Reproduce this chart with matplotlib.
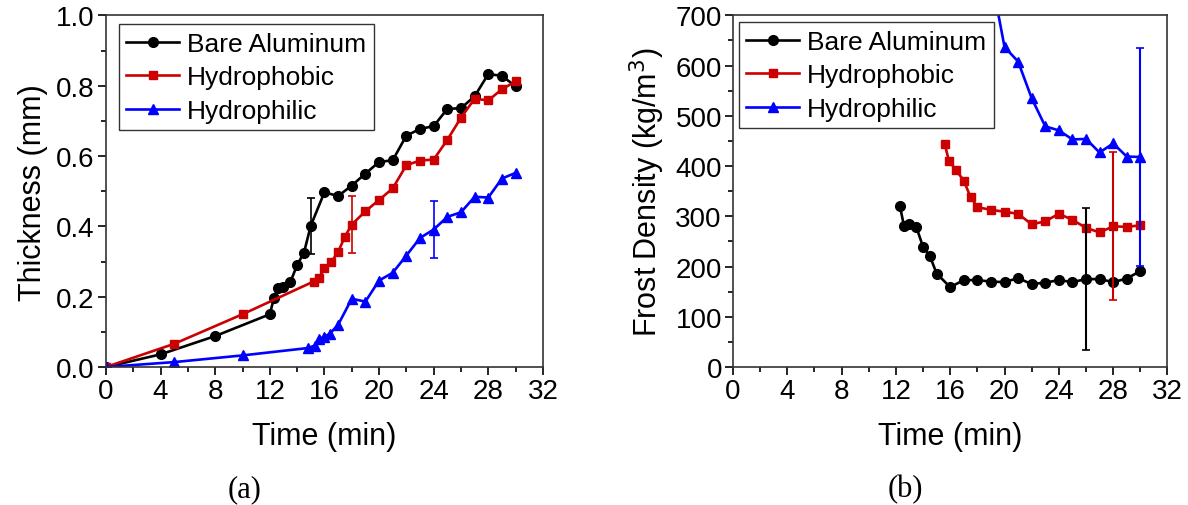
import numpy as np
import matplotlib
matplotlib.use('Agg')
import matplotlib.pyplot as plt
from matplotlib.ticker import MultipleLocator

plt.rcParams['font.family'] = ['Liberation Sans', 'DejaVu Sans']

# (a) frost thickness
t_bare = [0, 4, 8, 12, 12.3, 12.6, 13, 13.5, 14, 14.5, 15, 16, 17, 18, 19, 20, 21,
          22, 23, 24, 25, 26, 27, 28, 29, 30]
th_bare = [0, 0.036, 0.088, 0.150, 0.196, 0.226, 0.228, 0.241, 0.290, 0.325, 0.402,
           0.497, 0.486, 0.516, 0.550, 0.583, 0.588, 0.658, 0.677, 0.685, 0.734,
           0.736, 0.770, 0.833, 0.828, 0.798]
t_phob = [0, 5, 10, 15.2, 15.6, 16, 16.5, 17, 17.5, 18, 19, 20, 21, 22, 23, 24, 25,
          26, 27, 28, 29, 30]
th_phob = [0, 0.066, 0.150, 0.243, 0.254, 0.281, 0.299, 0.327, 0.371, 0.405, 0.443,
           0.475, 0.508, 0.574, 0.587, 0.590, 0.646, 0.709, 0.763, 0.758, 0.790, 0.812]
t_phil = [0, 5, 10, 14.8, 15.3, 15.6, 16, 16.4, 17, 18, 19, 20, 21, 22, 23, 24, 25,
          26, 27, 28, 29, 30]
th_phil = [0, 0.014, 0.033, 0.054, 0.061, 0.080, 0.086, 0.095, 0.120, 0.194, 0.186,
           0.246, 0.268, 0.317, 0.367, 0.391, 0.427, 0.440, 0.484, 0.482, 0.536, 0.552]

# error bars (a): (time, value, half-range)
err_a_bare = (15, 0.402, 0.080)
err_a_phob = (18, 0.405, 0.080)
err_a_phil = (24, 0.391, 0.080)

# (b) frost density
td_bare = [12.3, 12.6, 13, 13.5, 14, 14.5, 15, 16, 17, 18, 19, 20, 21, 22, 23, 24,
           25, 26, 27, 28, 29, 30]
rho_bare = [320, 280, 285, 279, 239, 221, 186, 159, 173, 173, 170, 169, 177, 165,
            168, 173, 169, 175, 175, 169, 176, 191]
td_phob = [15.6, 15.9, 16.4, 17, 17.5, 18, 19, 20, 21, 22, 23, 24, 25, 26, 27, 28,
           29, 30]
rho_phob = [443, 411, 393, 371, 338, 318, 313, 309, 305, 284, 290, 305, 293, 277,
            268, 280, 279, 282]
td_phil = [18, 19, 20, 21, 22, 23, 24, 25, 26, 27, 28, 29, 30]
rho_phil = [1050, 780, 637, 608, 535, 479, 471, 453, 454, 427, 445, 419, 418]

err_b_bare = (26, 175, 142)
err_b_phob = (28, 280, 147)
err_b_phil = (30, 418, 217)

black = 'black'
red = '#CC0000'
blue = '#0000FF'

fig = plt.figure(figsize=(11.88, 5.06), dpi=100)
ax1 = fig.add_axes([0.0892, 0.2727, 0.3678, 0.695])
ax2 = fig.add_axes([0.617, 0.2727, 0.3657, 0.695])

line_kw = dict(lw=1.9)
ax1.plot(t_bare, th_bare, '-o', color=black, ms=7, label='Bare Aluminum', **line_kw)
ax1.plot(t_phob, th_phob, '-s', color=red, ms=6, label='Hydrophobic', **line_kw)
ax1.plot(t_phil, th_phil, '-^', color=blue, ms=7, label='Hydrophilic', **line_kw)
for (x, y, e), c in [(err_a_bare, black), (err_a_phob, red), (err_a_phil, blue)]:
    ax1.errorbar(x, y, yerr=e, color=c, capsize=3, lw=1.2, capthick=1.2, fmt='none')

ax2.plot(td_bare, rho_bare, '-o', color=black, ms=7, label='Bare Aluminum', **line_kw)
ax2.plot(td_phob, rho_phob, '-s', color=red, ms=6, label='Hydrophobic', **line_kw)
ax2.plot(td_phil, rho_phil, '-^', color=blue, ms=7, label='Hydrophilic', **line_kw)
for (x, y, e), c in [(err_b_bare, black), (err_b_phob, red), (err_b_phil, blue)]:
    ax2.errorbar(x, y, yerr=e, color=c, capsize=3, lw=1.5, capthick=1.2, fmt='none')

ax1.set_xlim(0, 32)
ax1.set_ylim(0, 1.0)
ax1.yaxis.set_major_locator(MultipleLocator(0.2))
ax1.yaxis.set_minor_locator(MultipleLocator(0.1))
ax1.yaxis.set_major_formatter(matplotlib.ticker.FormatStrFormatter('%.1f'))
ax1.set_ylabel('Thickness (mm)', fontsize=22, labelpad=6)

ax2.set_xlim(0, 32)
ax2.set_ylim(0, 700)
ax2.yaxis.set_major_locator(MultipleLocator(100))
ax2.yaxis.set_minor_locator(MultipleLocator(50))
ax2.set_ylabel('Frost Density (kg/m$^3$)', fontsize=22, labelpad=6)

for ax, anchor in ((ax1, (0.030, 0.974)), (ax2, (0.014, 0.98))):
    ax.xaxis.set_major_locator(MultipleLocator(4))
    ax.xaxis.set_minor_locator(MultipleLocator(2))
    ax.set_xlabel('Time (min)', fontsize=22, labelpad=12)
    ax.tick_params(which='major', direction='out', length=6, width=1.2, pad=2,
                   labelsize=20, top=False, right=False)
    ax.tick_params(which='minor', direction='out', length=3.5, width=1.2,
                   top=False, right=False)
    for sp in ax.spines.values():
        sp.set_linewidth(1.2)
        sp.set_color('#333333')
    leg = ax.legend(loc='upper left', bbox_to_anchor=anchor, fontsize=19,
                    frameon=True, fancybox=False, edgecolor='black',
                    handlelength=2.0, handletextpad=0.3, labelspacing=0.36,
                    borderpad=0.28, borderaxespad=0)
    leg.get_frame().set_linewidth(1.0)

fig.text(0.206, 0.032, '(a)', fontsize=22, family='Liberation Serif',
         ha='center', va='center')
fig.text(0.762, 0.032, '(b)', fontsize=22, family='Liberation Serif',
         ha='center', va='center')

fig.savefig('out.png', dpi=100)
